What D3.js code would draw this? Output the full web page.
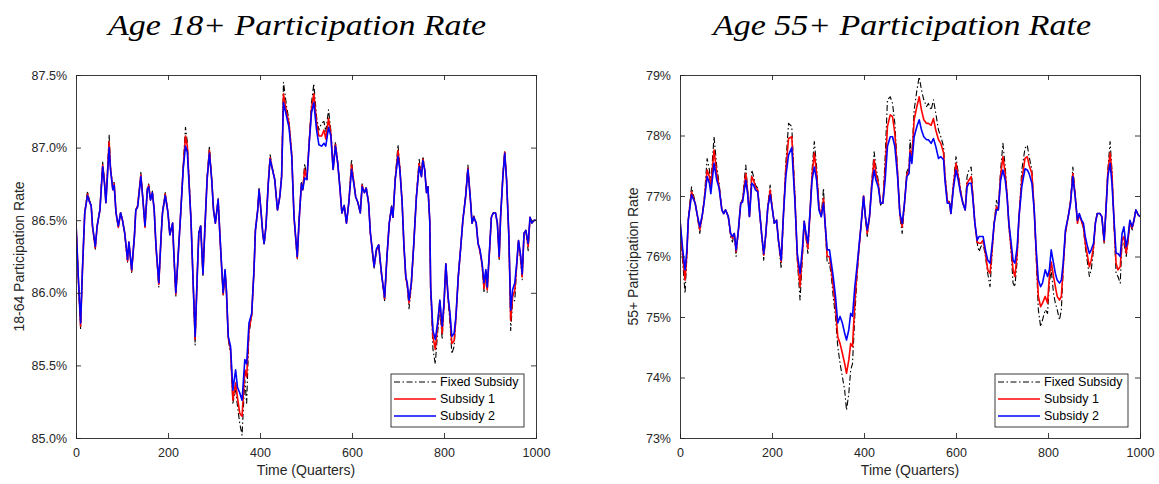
<!DOCTYPE html>
<html>
<head>
<meta charset="utf-8">
<script src="https://cdn.jsdelivr.net/npm/d3@7"></script>
<style>
  html, body { margin: 0; padding: 0; background: #fff; }
  svg { display: block; }
</style>
</head>
<body>
<div id="chart"></div>
<script>
// ---------------- DATA ----------------
const seriesNames = ["Fixed Subsidy", "Subsidy 1", "Subsidy 2"];
const xTicks = [0, 200, 400, 600, 800, 1000];
const leftYTicks = [85.0, 85.5, 86.0, 86.5, 87.0, 87.5];
const rightYTicks = [73, 74, 75, 76, 77, 78, 79];

const leftQ = [
  0,5,10,14,19,25,29,33,36,42,
  46,52,58,62,65,72,75,80,83,87,
  92,97,101,106,112,115,121,127,130,134,
  141,145,150,155,158,162,166,170,174,180,
  185,188,194,200,204,210,213,217,222,228,
  233,238,242,250,255,259,264,267,271,276,
  280,285,290,295,299,303,309,313,317,320,
  324,327,331,336,341,347,351,356,361,367,
  371,376,382,387,390,395,398,402,406,409,
  413,418,422,427,432,438,443,447,451,458,
  463,469,474,481,485,490,493,497,502,507,
  512,517,523,528,534,539,543,549,554,559,
  564,569,573,578,583,588,593,599,604,608,
  613,618,622,627,631,636,640,644,648,653,
  658,662,665,671,676,681,686,689,694,700,
  704,709,713,717,720,724,729,734,740,746,
  751,754,758,762,765,769,771,776,781,786,
  791,796,800,804,809,813,817,822,826,831,
  836,841,847,852,857,861,865,870,874,878,
  883,887,891,894,899,903,907,912,916,920,
  923,928,932,936,941,945,949,954,958,962,
  967,970,974,978,983,987,991,996,1000
];
const leftFixed = [
  86.48,86.09,85.75,86.15,86.55,86.70,86.64,86.61,86.45,86.30,
  86.46,86.58,86.90,86.76,86.62,87.09,86.87,86.72,86.77,86.55,
  86.45,86.56,86.50,86.40,86.21,86.35,86.14,86.39,86.57,86.60,
  86.83,86.66,86.45,86.72,86.75,86.64,86.70,86.57,86.31,86.04,
  86.39,86.55,86.69,86.55,86.40,86.48,86.24,85.97,86.25,86.57,
  86.87,87.14,87.04,86.50,86.03,85.64,86.16,86.41,86.46,86.12,
  86.43,86.79,87.01,86.78,86.57,86.48,86.65,86.38,86.15,85.98,
  86.15,86.00,85.68,85.58,85.24,85.33,85.22,85.10,85.02,85.40,
  85.24,85.72,85.84,86.16,86.43,86.57,86.72,86.57,86.41,86.33,
  86.46,86.76,86.95,86.86,86.78,86.57,86.66,86.81,87.45,87.28,
  87.19,86.96,86.52,86.23,86.50,86.76,86.71,86.89,86.79,87.05,
  87.31,87.44,87.21,87.12,87.17,87.18,87.11,87.26,87.12,86.86,
  87.04,86.90,86.76,86.55,86.61,86.48,86.62,86.92,86.76,86.67,
  86.62,86.55,86.75,86.69,86.73,86.62,86.41,86.29,86.17,86.29,
  86.33,86.19,86.10,85.94,86.25,86.48,86.60,86.52,86.79,87.02,
  86.87,86.62,86.31,86.10,86.05,85.89,86.05,86.32,86.67,86.92,
  86.81,86.94,86.86,86.69,86.73,86.50,86.03,85.61,85.51,85.72,
  85.90,85.68,85.90,86.20,85.95,85.79,85.58,85.63,85.82,86.11,
  86.30,86.50,86.67,86.88,86.66,86.48,86.53,86.48,86.34,86.29,
  86.18,86.00,86.14,86.00,86.29,86.52,86.55,86.55,86.48,86.23,
  86.52,86.81,86.98,86.78,86.38,85.74,85.93,85.95,86.18,86.36,
  86.20,86.09,86.41,86.43,86.29,86.52,86.48,86.50,86.50
];
const leftSub1 = [
  86.48,86.10,85.77,86.15,86.55,86.68,86.63,86.60,86.45,86.31,
  86.46,86.57,86.88,86.76,86.62,87.04,86.86,86.71,86.75,86.55,
  86.45,86.55,86.50,86.41,86.22,86.35,86.15,86.39,86.57,86.60,
  86.81,86.66,86.45,86.71,86.74,86.64,86.69,86.57,86.31,86.06,
  86.39,86.55,86.68,86.55,86.40,86.48,86.25,85.99,86.25,86.57,
  86.86,87.08,87.01,86.50,86.04,85.68,86.16,86.41,86.46,86.13,
  86.43,86.78,86.98,86.78,86.57,86.48,86.64,86.39,86.15,85.99,
  86.15,86.01,85.69,85.61,85.26,85.38,85.28,85.17,85.15,85.47,
  85.42,85.74,85.85,86.16,86.43,86.57,86.71,86.57,86.41,86.34,
  86.46,86.76,86.93,86.85,86.78,86.57,86.66,86.80,87.37,87.24,
  87.17,86.95,86.52,86.24,86.50,86.75,86.71,86.85,86.78,87.04,
  87.27,87.37,87.17,87.08,87.08,87.12,87.06,87.20,87.10,86.85,
  87.02,86.89,86.75,86.55,86.60,86.48,86.62,86.88,86.76,86.66,
  86.62,86.55,86.74,86.69,86.72,86.62,86.41,86.29,86.18,86.29,
  86.33,86.20,86.11,85.96,86.25,86.48,86.59,86.52,86.78,86.98,
  86.86,86.62,86.32,86.10,86.06,85.93,86.06,86.32,86.66,86.89,
  86.80,86.92,86.85,86.69,86.73,86.50,86.04,85.70,85.61,85.77,
  85.94,85.72,85.92,86.20,85.96,85.84,85.65,85.67,85.83,86.11,
  86.30,86.50,86.66,86.86,86.66,86.48,86.52,86.48,86.34,86.29,
  86.19,86.03,86.15,86.02,86.29,86.52,86.55,86.55,86.48,86.24,
  86.52,86.80,86.97,86.78,86.39,85.81,85.97,86.02,86.19,86.36,
  86.23,86.11,86.41,86.43,86.32,86.52,86.48,86.50,86.50
];
const leftSub2 = [
  86.48,86.11,85.79,86.16,86.55,86.67,86.63,86.60,86.46,86.32,
  86.46,86.57,86.87,86.75,86.62,87.00,86.85,86.71,86.74,86.55,
  86.46,86.55,86.50,86.41,86.23,86.35,86.16,86.39,86.57,86.59,
  86.80,86.66,86.46,86.71,86.73,86.64,86.69,86.57,86.32,86.07,
  86.39,86.55,86.67,86.55,86.40,86.48,86.25,86.00,86.25,86.57,
  86.85,87.01,86.97,86.50,86.04,85.70,86.16,86.41,86.46,86.13,
  86.43,86.78,86.96,86.78,86.57,86.48,86.64,86.39,86.16,86.00,
  86.16,86.02,85.70,85.63,85.33,85.47,85.35,85.31,85.26,85.54,
  85.51,85.79,85.86,86.16,86.43,86.57,86.71,86.57,86.41,86.34,
  86.46,86.75,86.92,86.85,86.78,86.57,86.66,86.80,87.31,87.21,
  87.14,86.94,86.52,86.25,86.50,86.75,86.71,86.79,86.78,87.03,
  87.24,87.31,87.12,87.02,87.01,87.03,87.01,87.14,87.08,86.85,
  87.01,86.89,86.75,86.55,86.60,86.48,86.62,86.85,86.75,86.66,
  86.62,86.55,86.73,86.69,86.72,86.62,86.41,86.30,86.18,86.30,
  86.33,86.20,86.11,85.97,86.25,86.48,86.59,86.52,86.78,86.94,
  86.85,86.62,86.32,86.11,86.07,85.95,86.07,86.32,86.66,86.87,
  86.80,86.91,86.85,86.69,86.73,86.50,86.04,85.74,85.68,85.79,
  85.95,85.77,85.93,86.20,85.97,85.86,85.70,85.72,85.84,86.11,
  86.30,86.50,86.66,86.85,86.66,86.48,86.52,86.48,86.34,86.30,
  86.20,86.07,86.16,86.04,86.30,86.52,86.55,86.55,86.48,86.25,
  86.52,86.80,86.96,86.78,86.39,85.88,86.02,86.07,86.20,86.36,
  86.25,86.13,86.41,86.43,86.34,86.52,86.48,86.50,86.50
];

const rightQ = [
  0,6,11,15,18,25,33,37,43,49,
  53,59,64,67,74,80,85,91,95,99,
  105,110,114,118,122,127,132,136,143,147,
  151,156,160,164,169,174,178,182,186,191,
  196,201,205,210,214,220,225,230,236,243,
  250,255,261,267,270,274,278,283,287,292,
  297,302,307,312,316,320,325,329,333,338,
  343,348,353,358,362,367,371,375,380,384,
  389,394,399,403,407,412,417,422,426,431,
  436,441,446,451,457,462,467,473,478,483,
  488,493,498,500,504,509,515,520,525,530,
  536,540,546,551,556,562,567,573,576,581,
  586,589,594,600,605,610,615,620,624,628,
  633,637,641,646,650,654,659,664,669,674,
  679,683,688,692,697,702,707,711,715,720,
  724,728,733,737,743,750,755,759,765,770,
  774,779,784,788,794,799,803,807,812,816,
  820,825,829,833,838,844,849,854,859,864,
  868,873,877,881,886,890,894,899,903,907,
  913,917,922,926,930,935,939,944,948,952,
  957,961,965,970,974,978,983,987,991,996,
  1000
];
const rightFixed = [
  76.60,75.89,75.39,76.00,76.63,77.15,76.90,76.71,76.38,76.71,
  76.99,77.62,77.43,77.21,77.98,77.48,77.21,76.77,76.71,76.77,
  76.66,76.33,76.24,76.38,76.00,76.44,76.88,76.95,77.51,77.10,
  76.66,77.43,77.32,77.18,77.13,76.66,76.30,75.94,76.30,76.85,
  77.18,76.77,76.55,76.60,76.25,75.80,76.71,77.54,78.20,78.15,
  76.99,75.94,75.28,76.11,76.58,76.30,76.05,76.77,77.43,77.90,
  77.48,76.85,76.66,77.13,76.44,75.89,75.89,75.67,75.34,75.01,
  74.51,74.23,74.01,73.79,73.46,73.74,74.12,74.23,75.01,75.56,
  76.11,76.55,77.02,76.66,76.33,76.66,77.26,77.73,77.48,77.26,
  76.85,76.88,77.65,78.59,78.64,78.53,78.20,77.43,76.66,76.38,
  76.85,77.40,77.48,77.93,77.65,78.42,78.75,78.97,78.75,78.59,
  78.48,78.53,78.42,78.59,78.37,78.09,77.98,77.82,77.37,76.96,
  76.90,76.74,77.18,77.65,77.37,77.10,76.88,76.77,77.32,77.43,
  77.48,76.99,76.55,76.22,76.08,76.16,76.22,76.00,75.72,75.50,
  76.11,76.55,76.93,76.80,77.43,77.87,77.48,77.04,76.49,76.05,
  75.56,75.50,75.94,76.66,77.43,77.79,77.84,77.65,77.43,76.77,
  76.05,75.12,74.84,74.95,75.12,75.06,75.56,75.78,75.39,75.23,
  75.12,74.95,75.12,75.78,76.38,76.66,76.93,77.48,77.04,76.55,
  76.69,76.58,76.47,76.16,75.89,75.67,75.78,76.11,76.55,76.71,
  76.71,76.66,76.22,76.77,77.43,77.90,77.43,76.44,75.72,75.67,
  75.56,76.22,76.22,76.00,76.24,76.55,76.44,76.60,76.77,76.69,
  76.66
];
const rightSub1 = [
  76.60,76.00,75.61,76.05,76.60,77.07,76.88,76.71,76.44,76.71,
  76.95,77.43,77.32,77.15,77.76,77.37,77.15,76.77,76.71,76.77,
  76.66,76.38,76.30,76.38,76.08,76.44,76.88,76.92,77.37,77.07,
  76.66,77.32,77.26,77.15,77.10,76.66,76.33,76.02,76.33,76.82,
  77.10,76.77,76.55,76.60,76.27,75.91,76.71,77.43,77.95,77.98,
  76.93,76.00,75.50,76.16,76.58,76.33,76.13,76.77,77.34,77.71,
  77.37,76.82,76.66,76.96,76.49,76.00,76.00,75.78,75.50,75.17,
  74.67,74.56,74.40,74.23,74.07,74.29,74.56,74.51,75.23,75.67,
  76.13,76.55,77.00,76.66,76.38,76.66,77.21,77.60,77.37,77.21,
  76.88,76.88,77.43,78.15,78.34,78.31,78.04,77.37,76.69,76.49,
  76.88,77.35,77.43,77.76,77.60,78.26,78.48,78.64,78.42,78.26,
  78.20,78.20,78.17,78.28,78.09,77.93,77.87,77.71,77.32,76.93,
  76.88,76.71,77.15,77.54,77.32,77.07,76.88,76.77,77.21,77.26,
  77.32,76.96,76.55,76.24,76.22,76.22,76.27,76.05,75.78,75.72,
  76.16,76.55,76.82,76.77,77.34,77.65,77.37,77.02,76.52,76.13,
  75.78,75.67,76.05,76.66,77.26,77.62,77.65,77.51,77.37,76.77,
  76.11,75.34,75.17,75.23,75.34,75.23,75.67,75.91,75.67,75.50,
  75.34,75.28,75.34,75.83,76.41,76.66,76.90,77.37,77.02,76.55,
  76.69,76.58,76.49,76.22,76.00,75.83,75.94,76.16,76.55,76.71,
  76.71,76.66,76.24,76.77,77.37,77.71,77.37,76.49,75.89,75.78,
  75.83,76.27,76.33,76.05,76.27,76.58,76.47,76.60,76.77,76.69,
  76.66
];
const rightSub2 = [
  76.60,76.11,75.78,76.11,76.60,77.02,76.88,76.71,76.49,76.71,
  76.93,77.32,77.21,77.04,77.54,77.26,77.13,76.77,76.71,76.77,
  76.66,76.38,76.33,76.38,76.11,76.44,76.88,76.90,77.26,77.04,
  76.66,77.21,77.18,77.10,77.07,76.66,76.33,76.05,76.33,76.82,
  77.02,76.77,76.55,76.60,76.27,75.94,76.71,77.32,77.68,77.80,
  76.88,76.05,75.72,76.22,76.58,76.38,76.22,76.77,77.26,77.48,
  77.26,76.77,76.66,76.88,76.49,76.11,76.11,75.89,75.67,75.34,
  74.90,75.01,74.90,74.73,74.62,74.79,75.06,75.01,75.50,75.78,
  76.16,76.55,76.99,76.66,76.44,76.66,77.15,77.43,77.26,77.15,
  76.88,76.88,77.26,77.82,77.98,77.98,77.82,77.32,76.71,76.55,
  76.88,77.32,77.37,77.71,77.54,77.98,78.15,78.26,78.09,77.98,
  77.93,77.93,77.87,77.95,77.82,77.62,77.65,77.60,77.26,76.88,
  76.88,76.71,77.10,77.43,77.26,77.04,76.88,76.77,77.15,77.21,
  77.21,76.93,76.55,76.27,76.33,76.33,76.33,76.11,75.94,75.89,
  76.22,76.55,76.77,76.77,77.26,77.43,77.26,76.99,76.55,76.22,
  75.94,75.89,76.16,76.66,77.15,77.45,77.43,77.37,77.21,76.77,
  76.16,75.61,75.50,75.56,75.78,75.67,75.78,76.11,75.89,75.72,
  75.61,75.56,75.61,75.89,76.44,76.66,76.88,77.32,76.99,76.60,
  76.71,76.60,76.55,76.33,76.16,76.05,76.11,76.22,76.55,76.71,
  76.71,76.66,76.27,76.77,77.32,77.54,77.21,76.55,76.05,76.05,
  76.00,76.38,76.49,76.16,76.33,76.60,76.49,76.60,76.77,76.69,
  76.66
];

// ---------------- DRAW ----------------
const W = 1159, H = 484;
const svg = d3.select("#chart").append("svg")
  .attr("width", W).attr("height", H)
  .attr("viewBox", `0 0 ${W} ${H}`)
  .style("background", "#fff");

const axisColor = "#262626";
const sansFont = "'Liberation Sans', Arial, Helvetica, sans-serif";
const colors = ["#000000", "#ff0000", "#0000ff"];
const widths = [1.1, 1.6, 1.6];
const dash = "6,2.5,1.5,2.5";

const panels = [
  {
    title: "Age 18+ Participation Rate", titleX: 297,
    ylabel: "18-64 Participation Rate", ylabelX: 19,
    left: 76, right: 536, top: 75, bottom: 438,
    yDomain: [85.0, 87.5], yTicks: leftYTicks, yFmt: d => d.toFixed(1) + "%",
    q: leftQ, series: [leftFixed, leftSub1, leftSub2],
    legend: {x: 391, y: 374, w: 133, h: 53}
  },
  {
    title: "Age 55+ Participation Rate", titleX: 902,
    ylabel: "55+ Participation Rate", ylabelX: 633,
    left: 680, right: 1140, top: 75, bottom: 438,
    yDomain: [73, 79], yTicks: rightYTicks, yFmt: d => d.toFixed(0) + "%",
    q: rightQ, series: [rightFixed, rightSub1, rightSub2],
    legend: {x: 995, y: 374, w: 133, h: 53}
  }
];

panels.forEach((p, pi) => {
  const x = d3.scaleLinear().domain([0, 1000]).range([p.left, p.right]);
  const y = d3.scaleLinear().domain(p.yDomain).range([p.bottom, p.top]);
  const g = svg.append("g");

  // title (LaTeX-like italic serif)
  g.append("text")
    .attr("x", p.titleX).attr("y", 35)
    .attr("text-anchor", "middle")
    .attr("textLength", 378)
    .attr("lengthAdjust", "spacingAndGlyphs")
    .style("font-family", "'Liberation Serif', 'Times New Roman', serif")
    .style("font-style", "italic")
    .style("font-size", "30px")
    .style("fill", "#000")
    .text(p.title);

  // clip
  const clipId = "clip" + pi;
  svg.append("clipPath").attr("id", clipId)
    .append("rect")
    .attr("x", p.left).attr("y", p.top - 1)
    .attr("width", p.right - p.left).attr("height", p.bottom - p.top + 2);

  // lines
  const lineGen = d3.line()
    .x((d, i) => x(p.q[i]))
    .y(d => y(d));

  const lg = g.append("g").attr("clip-path", `url(#${clipId})`);
  p.series.forEach((s, si) => {
    lg.append("path")
      .datum(s)
      .attr("d", lineGen)
      .attr("fill", "none")
      .attr("stroke", colors[si])
      .attr("stroke-width", widths[si])
      .attr("stroke-linejoin", "round")
      .attr("stroke-dasharray", si === 0 ? dash : null);
  });

  // axes (MATLAB style: ticks inside, box)
  const tickLen = 5;
  const xAxisB = d3.axisBottom(x).tickValues(xTicks).tickSize(-tickLen).tickPadding(tickLen + 5).tickFormat(d3.format("d"));
  const xAxisT = d3.axisTop(x).tickValues(xTicks).tickSize(-tickLen).tickFormat("");
  const yAxisL = d3.axisLeft(y).tickValues(p.yTicks).tickSize(-tickLen).tickPadding(tickLen + 4).tickFormat(p.yFmt);
  const yAxisR = d3.axisRight(y).tickValues(p.yTicks).tickSize(-tickLen).tickFormat("");

  const styleAxis = sel => {
    sel.selectAll("path").attr("stroke", axisColor).attr("stroke-width", 0.9);
    sel.selectAll("line").attr("stroke", axisColor).attr("stroke-width", 0.9);
    sel.selectAll("text")
      .style("font-family", sansFont)
      .style("font-size", "12.5px")
      .attr("fill", axisColor);
  };

  g.append("g").attr("transform", `translate(0,${p.bottom})`).call(xAxisB).call(styleAxis);
  g.append("g").attr("transform", `translate(0,${p.top})`).call(xAxisT).call(styleAxis);
  g.append("g").attr("transform", `translate(${p.left},0)`).call(yAxisL).call(styleAxis);
  g.append("g").attr("transform", `translate(${p.right},0)`).call(yAxisR).call(styleAxis);

  // axis labels
  g.append("text")
    .attr("x", (p.left + p.right) / 2).attr("y", 475)
    .attr("text-anchor", "middle")
    .style("font-family", sansFont).style("font-size", "14px")
    .attr("fill", axisColor)
    .text("Time (Quarters)");

  g.append("text")
    .attr("transform", `translate(${p.ylabelX},${(p.top + p.bottom) / 2}) rotate(-90)`)
    .attr("text-anchor", "middle")
    .attr("dy", "0.35em")
    .style("font-family", sansFont).style("font-size", "14px")
    .attr("fill", axisColor)
    .text(p.ylabel);

  // legend
  const L = p.legend;
  const leg = g.append("g");
  leg.append("rect")
    .attr("x", L.x).attr("y", L.y).attr("width", L.w).attr("height", L.h)
    .attr("fill", "#fff").attr("stroke", axisColor).attr("stroke-width", 0.9);
  const rowY = [382, 399, 416];
  seriesNames.forEach((name, i) => {
    leg.append("line")
      .attr("x1", L.x + 3).attr("x2", L.x + 45)
      .attr("y1", rowY[i]).attr("y2", rowY[i])
      .attr("stroke", colors[i])
      .attr("stroke-width", widths[i])
      .attr("stroke-dasharray", i === 0 ? dash : null);
    leg.append("text")
      .attr("x", L.x + 49).attr("y", rowY[i])
      .attr("dy", "0.35em")
      .style("font-family", sansFont).style("font-size", "12.5px")
      .attr("fill", "#000")
      .text(name);
  });
});
</script>
</body>
</html>
